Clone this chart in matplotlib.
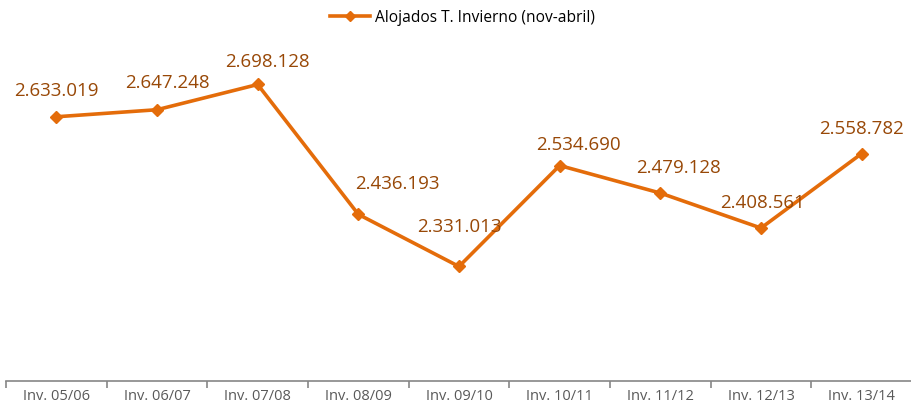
import numpy as np
import matplotlib.pyplot as plt

plt.rcParams['font.family'] = ['Open Sans', 'DejaVu Sans']

temporadas = ["Inv. 05/06", "Inv. 06/07", "Inv. 07/08", "Inv. 08/09", "Inv. 09/10",
              "Inv. 10/11", "Inv. 11/12", "Inv. 12/13", "Inv. 13/14"]
alojados = [2633019, 2647248, 2698128, 2436193, 2331013,
            2534690, 2479128, 2408561, 2558782]
etiquetas = ["2.633.019", "2.647.248", "2.698.128", "2.436.193", "2.331.013",
             "2.534.690", "2.479.128", "2.408.561", "2.558.782"]
# label offsets in pixels (dx, dy)
offsets = [(0, 26), (10, 27), (10, 22), (39, 30), (0, 39),
           (19, 21), (18, 25), (2, 25), (0, 25)]

naranja = '#E46C0A'
marron = '#984807'

fig = plt.figure(figsize=(9.12, 4.09), dpi=100)
ax = fig.add_axes([6/912, 28/409, 906/912, 347/409])

x = np.arange(len(temporadas))
ax.plot(x, alojados, color=naranja, lw=2.6, marker='D', ms=6.5,
        label='Alojados T. Invierno (nov-abril)')

for xi, v, t, (dx, dy) in zip(x, alojados, etiquetas, offsets):
    ax.annotate(t, (xi, v), xytext=(dx, dy), textcoords='offset pixels',
                ha='center', va='center', fontsize=13.5, color=marron)

ax.set_xlim(-0.5, len(temporadas) - 0.5)
ax.set_ylim(2100000, 2800000)
ax.set_yticks([])
for s in ['left', 'right', 'top']:
    ax.spines[s].set_visible(False)
ax.spines['bottom'].set_color('#868686')
ax.spines['bottom'].set_linewidth(1.2)

ax.set_xticks(x)
ax.set_xticklabels(temporadas, fontsize=10.5, color='#595959')
ax.set_xticks(np.arange(-0.5, len(temporadas)), minor=True)
ax.tick_params(axis='x', which='major', length=0, pad=6)
ax.tick_params(axis='x', which='minor', length=5, color='#868686', width=1.2)

fig.legend(loc='upper center', bbox_to_anchor=(0.507, 1.01), frameon=False,
           fontsize=11.2, handlelength=2.6, handletextpad=0.3, markerscale=0.8)

fig.savefig('out.png', dpi=100)
